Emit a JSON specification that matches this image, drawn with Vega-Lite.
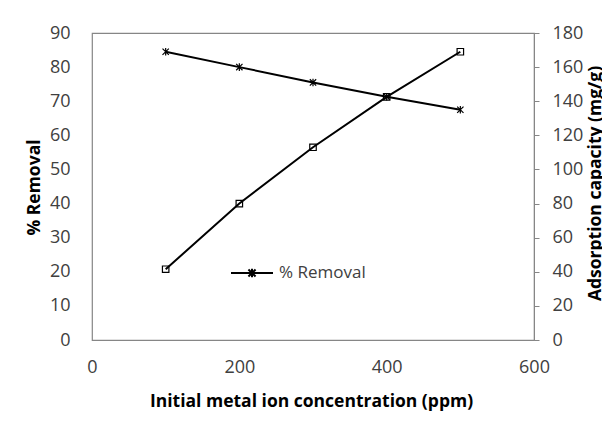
{
  "$schema": "https://vega.github.io/schema/vega-lite/v6.json",
  "width": 442,
  "height": 307,
  "autosize": {"type": "none"},
  "padding": {"left": 92, "top": 33, "right": 68, "bottom": 86},
  "background": "white",
  "config": {
    "view": {"stroke": "#868686", "strokeWidth": 1.2},
    "font": "Open Sans",
    "axis": {"labelFont": "Open Sans", "labelFontSize": 18, "labelColor": "#404040", "titleFont": "Open Sans", "titleFontSize": 17.5, "titleFontWeight": "bold", "titleColor": "#000000", "grid": false, "domain": false, "labelFlush": false}
  },
  "data": {"values": [
    {"conc": 100, "removal": 84.5, "capacity": 41.5},
    {"conc": 200, "removal": 80.0, "capacity": 80.0},
    {"conc": 300, "removal": 75.5, "capacity": 113.0},
    {"conc": 400, "removal": 71.3, "capacity": 142.5},
    {"conc": 500, "removal": 67.5, "capacity": 169.0}
  ]},
  "encoding": {
    "x": {"field": "conc", "type": "quantitative", "scale": {"domain": [0, 600], "nice": false},
      "axis": {"values": [0, 200, 400, 600], "ticks": false, "tickSize": 0, "labelFlush": false, "labelPadding": 18, "title": "Initial metal ion concentration (ppm)", "titleY": 66, "titleBaseline": "alphabetic", "titleX": 219}}
  },
  "layer": [
    {
      "layer": [
        {"mark": {"type": "line", "strokeWidth": 2}},
        {"mark": {"type": "point", "shape": "M-1,-1L1,1M-1,1L1,-1M0,-1.2L0,1.2", "filled": false, "size": 40, "strokeWidth": 1.2, "opacity": 1}}
      ],
      "encoding": {
        "y": {"field": "removal", "type": "quantitative", "scale": {"domain": [0, 90], "nice": false},
          "axis": {"orient": "left", "values": [0, 10, 20, 30, 40, 50, 60, 70, 80, 90], "ticks": false, "tickSize": 0, "labelPadding": 22, "title": "% Removal", "titleAngle": 270, "titleBaseline": "alphabetic", "titleAlign": "center", "titleX": -53, "titleY": 154}},
        "color": {"datum": "% Removal", "type": "nominal", "scale": {"range": ["black"]},
          "legend": {"orient": "none", "legendX": 138, "legendY": 218, "title": null, "padding": 0,
            "symbolType": "M-1,0L1,0M-0.17,-0.17L0.17,0.17M-0.17,0.17L0.17,-0.17M0,-0.2L0,0.2",
            "symbolSize": 1764, "symbolStrokeWidth": 2, "symbolStrokeColor": "black", "symbolFillColor": "transparent",
            "labelFont": "Open Sans", "labelFontSize": 17, "labelColor": "#404040", "labelOffset": 5}}
      }
    },
    {
      "layer": [
        {"mark": {"type": "line", "strokeWidth": 2, "color": "black"}},
        {"mark": {"type": "point", "shape": "square", "filled": false, "size": 42, "strokeWidth": 1.2, "color": "black", "opacity": 1}}
      ],
      "encoding": {
        "y": {"field": "capacity", "type": "quantitative", "scale": {"domain": [0, 180], "nice": false},
          "axis": {"orient": "right", "values": [0, 20, 40, 60, 80, 100, 120, 140, 160, 180], "ticks": true, "tickSize": 5, "tickColor": "#868686", "labelPadding": 13, "domain": true, "domainColor": "#868686", "title": "Adsorption capacity (mg/g)", "titleAngle": 270, "titleBaseline": "alphabetic", "titleAlign": "center", "titleX": 66, "titleY": 150}}
      }
    }
  ],
  "resolve": {"scale": {"y": "independent"}}
}
